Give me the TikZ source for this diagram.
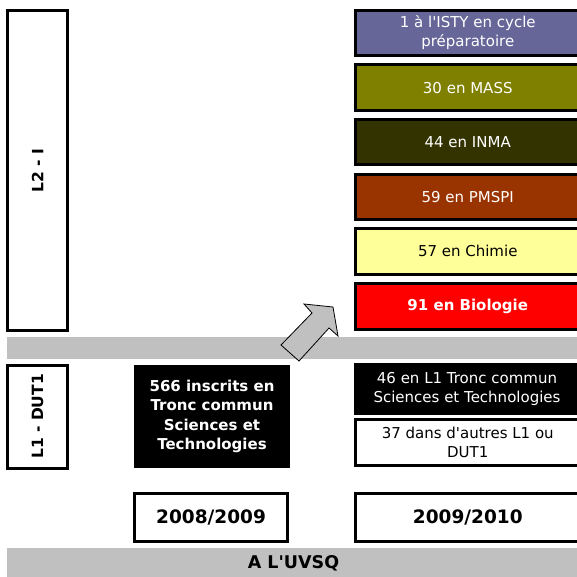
\documentclass[tikz,border=0pt]{standalone}
\usepackage{fontspec}
\setmainfont{DejaVu Sans}
\definecolor{cisty}{HTML}{666699}
\definecolor{cmass}{HTML}{808000}
\definecolor{cinma}{HTML}{333300}
\definecolor{cpmspi}{HTML}{993300}
\definecolor{cchim}{HTML}{FFFF99}
\definecolor{cbio}{HTML}{FF0000}
\definecolor{cgray}{HTML}{C0C0C0}
\tikzset{
  box/.style={draw=black, line width=3pt, inner sep=0pt, align=center,
    font=\fontsize{15}{19}\selectfont},
  rbox/.style={box, minimum width=224.5pt, minimum height=45.5pt, text=white},
  blackbox/.style={fill=black, inner sep=0pt, align=center, text=white,
    font=\fontsize{15}{19}\selectfont},
  yearbox/.style={draw=black, line width=3pt, inner sep=0pt, minimum height=48pt,
    font=\fontsize{18.5}{22}\selectfont\bfseries},
  graybar/.style={fill=cgray, inner sep=0pt},
  vlabel/.style={font=\fontsize{15.5}{19}\selectfont\bfseries, rotate=90},
}
\begin{document}
\begin{tikzpicture}[x=1pt,y=-1pt]
\useasboundingbox (0,0) rectangle (576,577);
% gray bars
\node[graybar, minimum width=573pt, minimum height=22pt] (bar1) at (293.5,348) {};
\node[graybar, minimum width=573pt, minimum height=30pt,
  font=\fontsize{17.5}{21}\selectfont\bfseries] (uvsq) at (293.5,563) {A L\textquotesingle UVSQ};
% left level boxes
\node[box, fill=white, minimum width=60pt, minimum height=319.5pt] (l2) at (37.5,170.25) {};
\node[vlabel] (l2t) at (l2.center) {L2 - I};
\node[box, fill=white, minimum width=60pt, minimum height=103pt] (l1) at (37.5,416.5) {};
\node[vlabel] (l1t) at (l1.center) {L1 - DUT1};
% right column L2
\node[rbox, fill=cisty] (isty) at (467.75,33) {1 à l\textquotesingle ISTY en cycle\\préparatoire};
\node[rbox, fill=cmass] (mass) at (467.75,87.6) {30 en MASS};
\node[rbox, fill=cinma] (inma) at (467.75,142.2) {44 en INMA};
\node[rbox, fill=cpmspi] (pmspi) at (467.75,196.8) {59 en PMSPI};
\node[rbox, fill=cchim, text=black] (chim) at (467.75,251.4) {57 en Chimie};
\node[rbox, fill=cbio, font=\fontsize{15}{19}\selectfont\bfseries] (bio) at (467.75,306.5) {91 en Biologie};
% L1 row
\node[blackbox, minimum width=156pt, minimum height=103pt,
  font=\fontsize{15}{19.5}\selectfont\bfseries] (tc) at (212,416.5)
  {566 inscrits en\\Tronc commun\\Sciences et\\Technologies};
\node[blackbox, minimum width=226pt, minimum height=52pt] (tc2) at (467,389)
  {46 en L1 Tronc commun\\Sciences et Technologies};
\node[box, fill=white, minimum width=224.5pt, minimum height=46pt] (autres) at (467.75,442.5)
  {37 dans d\textquotesingle autres L1 ou\\DUT1};
% years
\node[yearbox, minimum width=153pt] (y1) at (211,517.5) {2008/2009};
\node[yearbox, minimum width=224.5pt] (y2) at (467.75,517.5) {2009/2010};
% block arrow
\filldraw[fill=cgray, draw=black, line width=0.8pt, line join=miter]
  (281,345) -- (312,313) -- (304,304) -- (333,307) -- (338,336) -- (329,328) -- (299,361) -- cycle;
\end{tikzpicture}
\end{document}
